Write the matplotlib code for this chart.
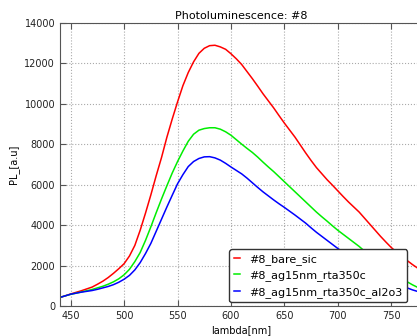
import matplotlib
matplotlib.use("Agg")
import matplotlib.pyplot as plt

wavelength = list(range(440, 781, 5))

bare_sic = [430, 510, 600, 680, 760, 850, 940, 1080, 1230, 1410,
            1620, 1850, 2100, 2480, 3000, 3750, 4600, 5500, 6450, 7350,
            8350, 9250, 10100, 10900, 11550, 12080, 12500, 12750, 12880, 12900,
            12820, 12700, 12480, 12230, 11950, 11600, 11250, 10880, 10500, 10150,
            9800, 9420, 9050, 8700, 8350, 7960, 7570, 7200, 6850, 6550,
            6250, 5980, 5700, 5420, 5150, 4900, 4650, 4350, 4050, 3750,
            3450, 3170, 2900, 2670, 2450, 2250, 2050, 1870, 1700]

ag15nm_rta350c = [430, 510, 580, 640, 700, 760, 820, 900, 980, 1080,
                  1200, 1350, 1550, 1820, 2200, 2650, 3250, 3920, 4620, 5300,
                  5950, 6580, 7150, 7670, 8150, 8500, 8700, 8780, 8820, 8820,
                  8750, 8620, 8450, 8230, 8010, 7800, 7600, 7370, 7120, 6880,
                  6650, 6400, 6150, 5900, 5650, 5400, 5150, 4900, 4650, 4420,
                  4200, 3970, 3750, 3550, 3350, 3150, 2950, 2720, 2500, 2300,
                  2100, 1900, 1700, 1520, 1350, 1200, 1050, 920, 800]

ag15nm_rta350c_al2o3 = [430, 510, 590, 640, 690, 730, 770, 830, 900, 970,
                        1060, 1180, 1330, 1520, 1790, 2150, 2600, 3100, 3700, 4300,
                        4900, 5480, 6050, 6500, 6900, 7150, 7300, 7380, 7390, 7330,
                        7220, 7060, 6880, 6710, 6540, 6330, 6100, 5870, 5650, 5450,
                        5250, 5060, 4880, 4690, 4500, 4300, 4100, 3870, 3650, 3450,
                        3250, 3050, 2850, 2670, 2500, 2320, 2150, 1970, 1800, 1650,
                        1500, 1370, 1250, 1120, 1000, 900, 800, 720, 650]

series = [
    ("#8_bare_sic", bare_sic, "#ff0000"),
    ("#8_ag15nm_rta350c", ag15nm_rta350c, "#00ee00"),
    ("#8_ag15nm_rta350c_al2o3", ag15nm_rta350c_al2o3, "#0000ff"),
]

fig = plt.figure(figsize=(4.17, 3.36), dpi=100)
ax = fig.add_axes([0.144, 0.089, 0.871, 0.8425])

for name, values, color in series:
    ax.plot(wavelength, values, color=color, lw=1.1, label=name)

ax.set_xlim(440, 780)
ax.set_ylim(0, 14000)
ax.set_xticks([450, 500, 550, 600, 650, 700, 750])
ax.set_yticks(range(0, 14001, 2000))
ax.tick_params(direction="in", length=4, labelsize=7, top=True, right=True,
               color="#555555", labelcolor="#222222")
ax.grid(True, linestyle=":", color="#aaaaaa", lw=0.8)
for sp in ax.spines.values():
    sp.set_color("#555555")

ax.set_title("Photoluminescence: #8", fontsize=8, pad=3)
ax.set_xlabel("lambda[nm]", fontsize=7, labelpad=3)
ax.set_ylabel("PL_[a.u]", fontsize=7)

leg = ax.legend(loc="lower left", bbox_to_anchor=(0.466, 0.014), borderaxespad=0,
                fontsize=8, handlelength=0.6, framealpha=1, fancybox=True)
leg.get_frame().set_edgecolor("#333333")

fig.savefig("out.png", dpi=100)
